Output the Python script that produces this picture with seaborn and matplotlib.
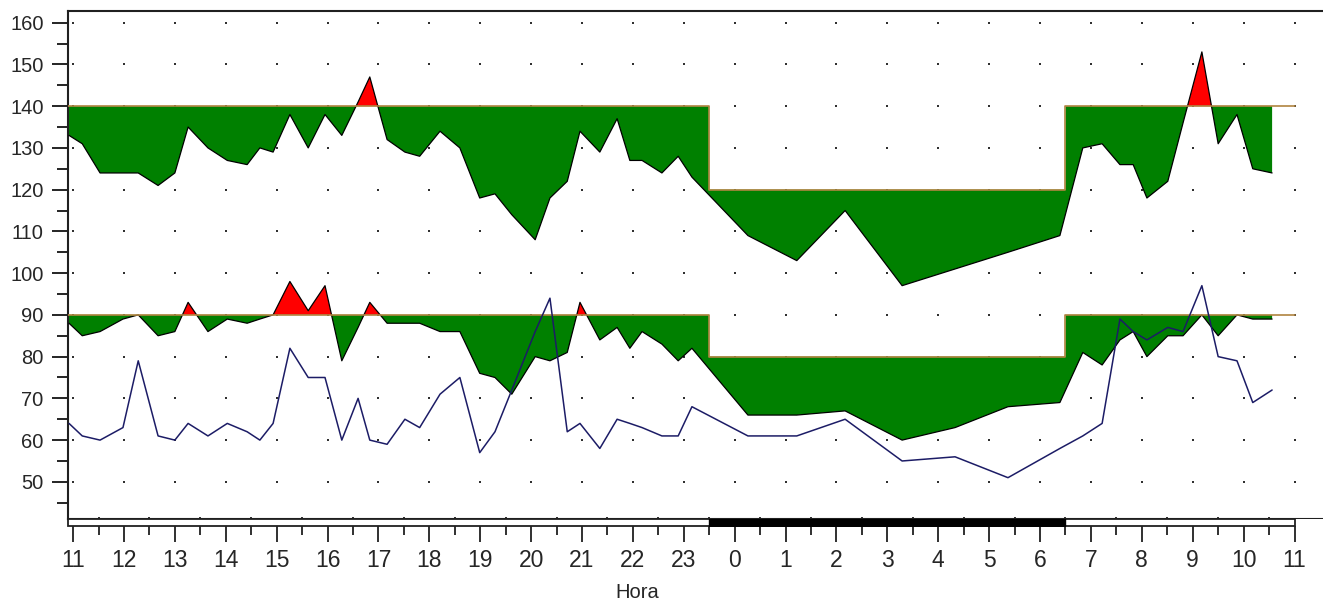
import numpy as np
import pandas as pd
import seaborn as sns
import matplotlib
matplotlib.use("Agg")
import matplotlib.pyplot as plt
from matplotlib import font_manager
from matplotlib.patches import Rectangle


# measurement times in hours (values past 24 are the next morning)
hours = [10.92, 11.18, 11.53, 11.98, 12.28, 12.67, 13.00, 13.26, 13.65, 14.03,
         14.42, 14.67, 14.93, 15.26, 15.62, 15.95, 16.28, 16.60, 16.83, 17.17,
         17.52, 17.81, 18.21, 18.60, 18.99, 19.29, 19.62, 20.08, 20.37, 20.71,
         20.96, 21.35, 21.69, 21.94, 22.18, 22.57, 22.89, 23.16, 24.26, 25.22,
         26.17, 27.29, 28.33, 29.37, 30.39, 30.84, 31.22, 31.57, 31.83, 32.10,
         32.51, 32.81, 33.18, 33.50, 33.87, 34.18, 34.56]

systolic = [133, 131, 124, 124, 124, 121, 124, 135, 130, 127,
            126, 130, 129, 138, 130, 138, 133, 141, 147, 132,
            129, 128, 134, 130, 118, 119, 114, 108, 118, 122,
            134, 129, 137, 127, 127, 124, 128, 123, 109, 103,
            115, 97, 101, 105, 109, 130, 131, 126, 126, 118,
            122, 136, 153, 131, 138, 125, 124]

diastolic = [88, 85, 86, 89, 90, 85, 86, 93, 86, 89,
             88, 89, 90, 98, 91, 97, 79, 87, 93, 88,
             88, 88, 86, 86, 76, 75, 71, 80, 79, 81,
             93, 84, 87, 82, 86, 83, 79, 82, 66, 66,
             67, 60, 63, 68, 69, 81, 78, 84, 86, 80,
             85, 85, 90, 85, 90, 89, 89]

heart_rate = [64, 61, 60, 63, 79, 61, 60, 64, 61, 64,
              62, 60, 64, 82, 75, 75, 60, 70, 60, 59,
              65, 63, 71, 75, 57, 62, 72, 86, 94, 62,
              64, 58, 65, 64, 63, 61, 61, 68, 61, 61,
              65, 55, 56, 51, 58, 61, 64, 89, 86, 84,
              87, 86, 97, 80, 79, 69, 72]

hour_ticks = list(range(11, 36))
hour_labels = [str(h % 24) for h in hour_ticks]
night_start, night_end = 23.5, 30.5
sys_limits = (140, 120)   # day, night
dia_limits = (90, 80)

sns.set_style("white")
plt.rcParams["font.family"] = ["Liberation Sans", "DejaVu Sans"]
installed = {f.name for f in font_manager.fontManager.ttflist}
narrow = "Liberation Sans Narrow" if "Liberation Sans Narrow" in installed else "Liberation Sans"

df = pd.DataFrame({"hora": hours, "sys": systolic, "dia": diastolic, "fc": heart_rate})

W, H = 1323, 601
fig = plt.figure(figsize=(W / 100, H / 100), dpi=100)
ax = fig.add_axes([68 / W, 1 - 519 / H, 1 - 68 / W, (519 - 11) / H])
bar_ax = fig.add_axes([68 / W, 1 - 526 / H, 1 - 68 / W, 7 / H])

x_min, x_max = 10.9, 35.56


def limit_at(t, day, night):
    return np.where((t >= night_start) & (t < night_end), night, day)


# dotted grid
gx, gy = np.meshgrid(hour_ticks, np.arange(50, 161, 10))
ax.scatter(gx.ravel(), gy.ravel(), s=3, marker="s", color="#303030", lw=0, zorder=1)

grid = np.linspace(hours[0], hours[-1], 8000)
for col, (day, night) in [("sys", sys_limits), ("dia", dia_limits)]:
    vals = np.interp(grid, df["hora"], df[col])
    lim = limit_at(grid, day, night)
    ax.fill_between(grid, vals, lim, where=vals <= lim, interpolate=True,
                    color="#008000", lw=0, zorder=2)
    ax.fill_between(grid, vals, lim, where=vals >= lim, interpolate=True,
                    color="#ff0000", lw=0, zorder=2)
    sns.lineplot(data=df, x="hora", y=col, ax=ax, color="black", linewidth=0.9,
                 estimator=None, sort=False, zorder=3)
    ax.plot([x_min, night_start, night_start, night_end, night_end, 35],
            [day, day, night, night, day, day], color="#b08440", lw=1.2, zorder=4)

sns.lineplot(data=df, x="hora", y="fc", ax=ax, color="#1c1c66", linewidth=1.1,
             estimator=None, sort=False, zorder=5)

ax.set_xlim(x_min, x_max)
ax.set_ylim(41.1, 162.8)
ax.set_xlabel("")
ax.set_ylabel("")
ax.set_xticks([])
ax.set_yticks(range(50, 161, 10))
ax.set_yticks(range(45, 160, 10), minor=True)
ax.tick_params(axis="y", which="major", left=True, direction="out", length=11.5,
               width=1.2, pad=6, labelsize=14.5, color="black")
ax.tick_params(axis="y", which="minor", left=True, direction="out", length=8,
               width=1.2, color="black")
for side in ["top", "left", "bottom"]:
    ax.spines[side].set_color("#202020")
    ax.spines[side].set_linewidth(1.5)
ax.spines["right"].set_visible(False)

# day / night bar
bar_ax.set_xlim(x_min, x_max)
bar_ax.set_ylim(0, 1)
bar_ax.add_patch(Rectangle((x_min, 0), 35 - x_min, 1, facecolor="white",
                           edgecolor="#202020", lw=1.3, clip_on=False))
bar_ax.broken_barh([(night_start, night_end - night_start)], (0, 1), color="black")
for side in bar_ax.spines.values():
    side.set_visible(False)
bar_ax.set_yticks([])
bar_ax.set_xticks(hour_ticks)
bar_ax.set_xticklabels(hour_labels, fontsize=16.5, family=narrow)
bar_ax.set_xticks(np.arange(11.5, 35, 1), minor=True)
bar_ax.tick_params(axis="x", which="major", bottom=True, direction="out", length=11.5,
                   width=1.3, pad=5, color="#202020")
bar_ax.tick_params(axis="x", which="minor", bottom=True, direction="inout", length=13,
                   width=1.3, color="#202020")

fig.text(637 / W, 1 - 593 / H, "Hora", ha="center", va="center", fontsize=14.5)

fig.savefig("out.png", dpi=100)
